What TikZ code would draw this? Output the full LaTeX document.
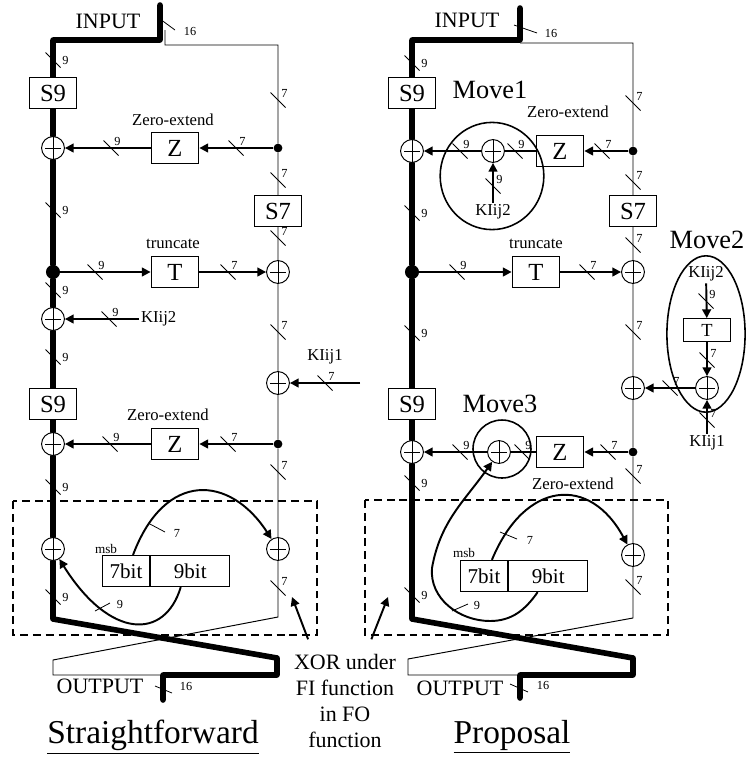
\documentclass[tikz,border=0pt]{standalone}
\usepackage{fontspec}
\setmainfont{Liberation Serif}
\usepackage{tikz}
\usetikzlibrary{arrows.meta,shapes.geometric,positioning,backgrounds}
\newcommand\fsz[2]{\fontsize{#1pt}{#2pt}\selectfont}
\tikzset{wire/.style={line width=3.2pt,line join=round,line cap=round},
lane/.style={line width=0.55pt},
sig/.style={-{Triangle[length=5pt,width=5pt]},line width=1.1pt},
blk/.style={draw,fill=white,line width=0.55pt,minimum width=27.2pt,minimum height=17.8pt,inner sep=0pt,font=\fsz{14}{16}},
bitbox/.style={blk,font=\fsz{12}{14}},
xor/.style={circle,draw,fill=white,line width=0.55pt,minimum size=13pt,inner sep=0pt,
 path picture={\draw[line width=0.55pt,shorten <=2.2pt,shorten >=2.2pt]
 (path picture bounding box.north)--(path picture bounding box.south)
 (path picture bounding box.west)--(path picture bounding box.east);}},
joint/.style={circle,fill,inner sep=0pt,minimum size=5pt},
bigjoint/.style={joint,minimum size=8pt},
note/.style={font=\fsz{9.5}{11},inner sep=1pt},
tag/.style={font=\fsz{15}{18}},
num/.style={font=\fsz{7}{8},inner sep=0pt},
tk/.style={line width=0.45pt},
grp/.style={draw,line width=0.9pt,inner sep=0pt},
fence/.style={line width=1pt,dash pattern=on 4.5pt off 2.8pt},
pics/bus/.style={code={\draw[tk] (-7.5,-7.5)--(7.5,7.5);
 \node[num,anchor=south west] (-n) at (3,-2) {#1};}},
pics/vbus/.style={code={\draw[tk] (-7.5,-7.5)--(7.5,7.5);
 \node[num,anchor=south west] (-n) at (9,5) {#1};}}}

\begin{document}
\begin{tikzpicture}[x=0.02cm,y=-0.02cm]
\useasboundingbox (0,0) rectangle (747,758);

% Straightforward
\node[blk] (S9a) at (53,93) {S9};
\node[xor] (X1) at (53,148) {};
\node[blk] (Z1) at (175,148) {Z};
\node[joint] (D1) at (278,148) {};
\node[note] (ze1) at (173,120) {Zero-extend};
\node[blk] (S7a) at (278,211) {S7};
\node[bigjoint] (tL) at (53,272) {};
\node[blk] (T1) at (175,272) {T};
\node[xor] (X2) at (278,272) {};
\node[note] (tr1) at (173,244) {truncate};
\node[xor] (X3) at (53,319) {};
\node[note,anchor=west] (ka) at (139,319) {KIij2};
\node[xor] (X4) at (278,383) {};
\node[note] (kb) at (325,357) {KIij1};
\coordinate (kbin) at (360,383);
\node[blk] (S9b) at (53,404) {S9};
\node[xor] (X5) at (53,444) {};
\node[blk] (Z2) at (175,444) {Z};
\node[joint] (D2) at (278,444) {};
\node[note] (ze2) at (168,415) {Zero-extend};
\node[xor] (X6) at (53,549) {};
\node[xor] (X7) at (278,549) {};
\node[bitbox] (b7) at (126,571) {7bit};
\node[bitbox,minimum width=44.8pt,right=0pt of b7] (b9) {9bit};
\node[font=\fsz{7.5}{9}] (msbL) at (106,549) {msb};

% Proposal
\node[blk] (S9c) at (412,93) {S9};
\node[xor] (Y1) at (412,151) {};
\node[xor] (Y1i) at (493,151) {};
\node[blk] (Z3) at (560,151) {Z};
\node[joint] (D3) at (633,151) {};
\node[note] (ze3) at (568,112) {Zero-extend};
\node[tag] (mv1) at (490,90) {Move1};
\node[note] (kc) at (493,212) {KIij2};
\node[grp,ellipse,minimum width=59pt,minimum height=61pt] (E1) at (492,176) {};
\node[blk] (S7b) at (633,211) {S7};
\node[bigjoint] (tR) at (412,272) {};
\node[blk] (T3) at (536,272) {T};
\node[xor] (Y2) at (633,272) {};
\node[note] (tr2) at (536,244) {truncate};
\node[tag] (mv2) at (707,240) {Move2};
\node[note] (kd) at (706,274) {KIij2};
\node[blk,minimum height=13pt,font=\fsz{10.5}{12}] (T4) at (707,330) {T};
\node[xor] (Y4i) at (707,388) {};
\node[note] (ke) at (707,443) {KIij1};
\node[xor] (Y4) at (633,388) {};
\node[grp,ellipse,minimum width=44.5pt,minimum height=89pt] (E2) at (706,334) {};
\node[blk] (S9d) at (412,404) {S9};
\node[tag] (mv3) at (500,404) {Move3};
\node[xor] (Y5) at (412,452) {};
\node[xor] (Y5i) at (499,452) {};
\node[blk] (Z4) at (560,452) {Z};
\node[joint] (D4) at (633,452) {};
\node[note] (ze4) at (573,484) {Zero-extend};
\node[grp,circle,minimum size=33pt] (C3) at (502,449) {};
\node[xor] (Y7) at (633,555) {};
\node[bitbox] (b7r) at (484,576) {7bit};
\node[bitbox,minimum width=44.8pt,right=0pt of b7r] (b9r) {9bit};
\node[font=\fsz{7.5}{9}] (msbR) at (464,553) {msb};

% lane corners
\coordinate (aL) at (160,5); \coordinate (cL) at (160,40);
\coordinate (bL) at (53,619); \coordinate (sL) at (277,658);
\coordinate (eL) at (163,675); \coordinate (oL) at (163,700);
\coordinate (fL) at (165,30); \coordinate (gL) at (278,45);
\coordinate (hL) at (278,617); \coordinate (iL) at (53,660); \coordinate (jL) at (53,675);
\coordinate (aR) at (520,8); \coordinate (cR) at (520,40);
\coordinate (bR) at (412,619); \coordinate (sR) at (633,658);
\coordinate (eR) at (520,675); \coordinate (oR) at (520,698);
\coordinate (fR) at (520,43); \coordinate (gR) at (633,43);
\coordinate (hR) at (633,618); \coordinate (iR) at (408,659); \coordinate (jR) at (408,675);

\begin{scope}[on background layer]
\draw[wire] (aL) -- (cL) -| (S9a) -- (X1) -- (tL) -- (X3) -- (S9b) -- (X5) -- (X6) -- (bL) -- (sL) |- (eL) -- (oL);
\draw[lane] (fL) |- (gL) -- (D1) -- (S7a) -- (X2) -- (X4) -- (D2) -- (X7) -- (hL) -- (iL) -- (jL) -- (eL);
\draw[wire] (aR) -- (cR) -| (S9c) -- (Y1) -- (tR) -- (S9d) -- (Y5) -- (bR) -- (sR) |- (eR) -- (oR);
\draw[lane] (fR) -- (gR) -- (D3) -- (S7b) -- (Y2) -- (Y4) -- (D4) -- (Y7) -- (hR) -- (iR) -- (jR) -- (eR);
\end{scope}

\draw[sig] (D1) -- (Z1);
\draw[sig] (Z1) -- (X1);
\draw[sig] (tL) -- (T1);
\draw[sig] (T1) -- (X2);
\draw[sig] (ka) -- (X3);
\draw[sig] (kbin) -- (X4);
\draw[sig] (D2) -- (Z2);
\draw[sig] (Z2) -- (X5);
\draw[sig] ([xshift=4pt]b7.north) .. controls (165,470) and (230,475) .. (X7);
\draw[sig] ([xshift=-5.4pt]b9.south) .. controls (165,640) and (110,640) .. (X6);

\draw[sig] (D3) -- (Z3);
\draw[line width=1.1pt] (Z3) -- (Y1i);
\draw[sig] (Y1i) -- (Y1);
\draw[sig] (kc) -- (Y1i);
\draw[sig] (tR) -- (T3);
\draw[sig] (T3) -- (Y2);
\draw[sig] (kd) -- (T4);
\draw[sig] (T4) -- (Y4i);
\draw[sig] (ke) -- (Y4i);
\draw[sig] (Y4i) -- (Y4);
\draw[sig] (D4) -- (Z4);
\draw[line width=1.1pt] (Z4) -- (Y5i);
\draw[sig] (Y5i) -- (Y5);
\draw[sig] ([xshift=4.5pt]b7r.north) .. controls (525,480) and (590,475) .. (Y7);
\draw[sig] ([xshift=-6pt]b9r.south) to[out=-125,in=0] (490,621) to[out=180,in=-95] (432,568) to[out=80,in=235] (Y5i);

% bus widths
\foreach \y [count=\i] in {60,210,290,357,487,597} \pic (vl\i) at (53,\y) {vbus=9};
\foreach \y [count=\i] in {100,180,238,332,472,588} \pic (rl\i) at (278,\y) {bus=7};
\foreach \x/\y/\w [count=\i] in {111/148/9,236/148/7,95/272/9,228/272/7,109/319/9,325/383/7,110/444/9,228/444/7}
 \pic (hl\i) at (\x,\y) {bus=\w};
\foreach \y [count=\i] in {63,213,333,483,595} \pic (vr\i) at (412,\y) {vbus=9};
\foreach \y [count=\i] in {103,182,245,332,476,587} \pic (rr\i) at (633,\y) {bus=7};
\foreach \x/\y/\w [count=\i] in {460/151/9,515/151/9,602/151/7,493/186/9,457/272/9,587/272/7,706/301/9,707/360/7,670/388/7,707/420/7,460/452/9,522/452/9,608/452/7}
 \pic (hr\i) at (\x,\y) {bus=\w};
\draw[tk] (148,523) -- (165,532) node[num] (c7L) at (177,533) {7};
\draw[tk] (95,611) -- (110,603) node[num] (c9L) at (120,604) {9};
\draw[tk] (500,532) -- (517,539) node[num] (c7R) at (530,540) {7};
\draw[tk] (452,611) -- (468,604) node[num] (c9R) at (477,605) {9};
\draw[tk] (160,19) -- (175,30) node[num] (i16L) at (190,31) {16};
\draw[tk] (514,25) -- (537,33) node[num] (i16R) at (551,33) {16};
\draw[tk] (155,686) -- (172,693) node[num] (o16L) at (186,686) {16};
\draw[tk] (510,684) -- (528,692) node[num] (o16R) at (543,685) {16};

\draw[fence] (13,501) rectangle (317,635);
\draw[fence] (365,500) rectangle (668,635);

\node[font=\fsz{12.5}{15}] (inpL) at (108,21) {INPUT};
\node[font=\fsz{12.5}{15}] (inpR) at (467,20) {INPUT};
\node[font=\fsz{12.5}{15}] (outL) at (100,686) {OUTPUT};
\node[font=\fsz{12.5}{15}] (outR) at (460,688) {OUTPUT};
\node[font=\fsz{19}{22}] (ttL) at (153,737) {\underline{Straightforward}};
\node[font=\fsz{19}{22}] (ttR) at (512,737) {\underline{Proposal}};
\node[font=\fsz{12.5}{14.8},align=center] (xn) at (345,701) {XOR under\\FI function\\in FO\\function};
\coordinate (pL) at (292,597); \coordinate (pR) at (388,597);
\draw[sig] ([xshift=-21pt,yshift=5pt]xn.north) -- (pL);
\draw[sig] ([xshift=15pt,yshift=5pt]xn.north) -- (pR);
\end{tikzpicture}
\end{document}
